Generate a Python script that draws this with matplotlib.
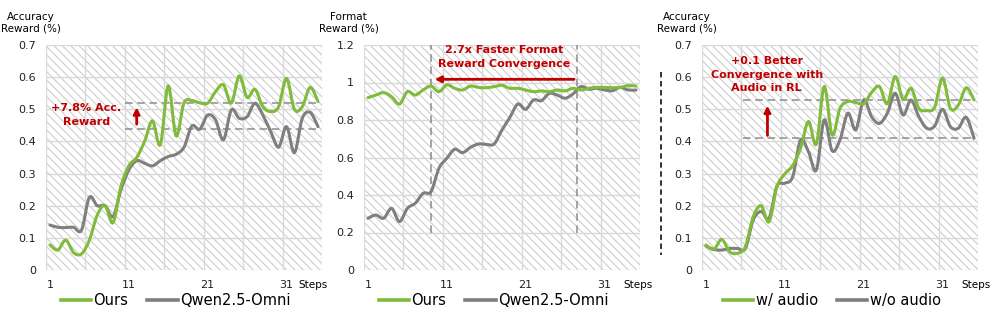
#training reward curves, three panels
import numpy as np
import matplotlib
matplotlib.use('Agg')
import matplotlib.pyplot as plt
from matplotlib.path import Path
from matplotlib.patches import PathPatch, Rectangle
from matplotlib.lines import Line2D

plt.rcParams['font.family'] = ['DejaVu Sans']
plt.rcParams['hatch.linewidth'] = 0.7

steps = list(range(1, 36))
x_ticks = [1, 11, 21, 31]

# panel 1: accuracy reward
acc_ours = [0.078, 0.062, 0.093, 0.054, 0.050, 0.093, 0.171, 0.200, 0.147, 0.260,
            0.324, 0.350, 0.400, 0.464, 0.390, 0.573, 0.417, 0.520, 0.527, 0.520,
            0.519, 0.555, 0.576, 0.519, 0.604, 0.537, 0.562, 0.508, 0.493, 0.508,
            0.596, 0.500, 0.508, 0.568, 0.524]
acc_qwen = [0.140, 0.133, 0.132, 0.133, 0.124, 0.226, 0.200, 0.200, 0.166, 0.249,
            0.311, 0.340, 0.332, 0.324, 0.340, 0.353, 0.360, 0.382, 0.448, 0.438,
            0.482, 0.467, 0.405, 0.498, 0.472, 0.477, 0.519, 0.482, 0.430, 0.382,
            0.446, 0.365, 0.472, 0.490, 0.446]

# panel 2: format reward
fmt_ours = [0.919, 0.933, 0.946, 0.924, 0.885, 0.951, 0.933, 0.960, 0.981, 0.951,
            0.987, 0.969, 0.960, 0.981, 0.974, 0.972, 0.978, 0.985, 0.969, 0.969,
            0.960, 0.951, 0.955, 0.951, 0.960, 0.955, 0.969, 0.960, 0.969, 0.974,
            0.974, 0.972, 0.974, 0.983, 0.981]
fmt_qwen = [0.276, 0.293, 0.276, 0.329, 0.258, 0.329, 0.356, 0.409, 0.418, 0.542,
            0.596, 0.644, 0.626, 0.654, 0.672, 0.670, 0.672, 0.747, 0.814, 0.885,
            0.857, 0.907, 0.903, 0.942, 0.933, 0.916, 0.939, 0.978, 0.964, 0.969,
            0.960, 0.956, 0.974, 0.960, 0.960]

# panel 3: with / without audio
audio_on = [0.078, 0.064, 0.095, 0.057, 0.052, 0.073, 0.166, 0.200, 0.150, 0.259,
            0.299, 0.325, 0.379, 0.462, 0.392, 0.571, 0.420, 0.503, 0.524, 0.521,
            0.517, 0.552, 0.571, 0.517, 0.602, 0.531, 0.565, 0.503, 0.496, 0.506,
            0.597, 0.503, 0.513, 0.567, 0.529]
audio_off = [0.075, 0.064, 0.062, 0.067, 0.067, 0.067, 0.156, 0.182, 0.161, 0.261,
             0.270, 0.290, 0.405, 0.368, 0.311, 0.467, 0.371, 0.405, 0.488, 0.436,
             0.529, 0.477, 0.456, 0.488, 0.550, 0.482, 0.529, 0.477, 0.441, 0.448,
             0.500, 0.446, 0.441, 0.475, 0.410]

acc_yticks = [0, 0.1, 0.2, 0.3, 0.4, 0.5, 0.6, 0.7]
acc_ylabels = ['0', '0.1', '0.2', '0.3', '0.4', '0.5', '0.6', '0.7']
fmt_yticks = [0, 0.2, 0.4, 0.6, 0.8, 1.0, 1.2]
fmt_ylabels = ['0', '0.2', '0.4', '0.6', '0.8', '1', '1.2']

# annotation levels
p1_levels = [0.52, 0.44]
p2_marks = [9, 27.5]
p3_levels = [0.53, 0.41]

GREEN = '#80bb3b'
GRAY = '#7f7f7f'
RED = '#c00000'
GRID = '#d9d9d9'


def smooth_line(ax, x, y, color):
    # excel-like smoothed line drawn as bezier segments through the points
    pts = np.column_stack([x, y]).astype(float)
    n = len(pts)
    verts = [pts[0]]
    codes = [Path.MOVETO]
    for i in range(n - 1):
        p0 = pts[max(i - 1, 0)]
        p1 = pts[i]
        p2 = pts[i + 1]
        p3 = pts[min(i + 2, n - 1)]
        verts += [p1 + (p2 - p0) / 6, p2 - (p3 - p1) / 6, p2]
        codes += [Path.CURVE4] * 3
    ax.add_patch(PathPatch(Path(verts, codes), fill=False, edgecolor=color,
                           lw=2.2, capstyle='round', joinstyle='round', zorder=3))


def setup(ax, yticks, ylabels, ylabel, names, steps_x):
    ax.add_patch(Rectangle((0, 0), 1, 1, transform=ax.transAxes, facecolor='white',
                           edgecolor='#c8c8c8', hatch='\\\\\\\\', lw=0, zorder=0))
    ax.set_xlim(0.5, 35.5)
    ax.set_ylim(yticks[0], yticks[-1])
    ax.set_xticks(x_ticks)
    ax.set_xticks(np.arange(0.5, 36, 5), minor=True)
    ax.set_yticks(yticks)
    ax.set_yticklabels(ylabels)
    ax.tick_params(axis='both', which='both', length=0, labelsize=8, pad=7, colors='#222222')
    ax.grid(True, axis='y', which='major', color=GRID, lw=1, zorder=1)
    ax.grid(True, axis='x', which='minor', color=GRID, lw=1, zorder=1)
    ax.grid(False, axis='x', which='major')
    for s in ax.spines.values():
        s.set_visible(False)
    ax.annotate(ylabel, xy=(0, 1), xycoords='axes fraction', xytext=(-11, 16),
                textcoords='offset points', ha='center', va='center', fontsize=7.5,
                linespacing=1.1)
    ax.text(steps_x, -0.068, 'Steps', transform=ax.get_xaxis_transform(),
            ha='center', va='center', fontsize=7.5)
    handles = [Line2D([], [], color=GREEN, lw=2.6), Line2D([], [], color=GRAY, lw=2.6)]
    ax.legend(handles, names, loc='center', bbox_to_anchor=(0.47, -0.135), ncol=2,
              frameon=False, fontsize=10.5, handlelength=2.1, handletextpad=0.15,
              columnspacing=1.3, borderaxespad=0, borderpad=0)


fig = plt.figure(figsize=(9.97, 3.25), dpi=100)
ax1 = fig.add_axes([46 / 997, 55 / 325, 276 / 997, 225 / 325])
ax2 = fig.add_axes([364 / 997, 55 / 325, 276 / 997, 225 / 325])
ax3 = fig.add_axes([702 / 997, 55 / 325, 276 / 997, 225 / 325])

# panel 1
setup(ax1, acc_yticks, acc_ylabels, 'Accuracy\nReward (%)', ['Ours', 'Qwen2.5-Omni'], 34.3)
smooth_line(ax1, steps, acc_qwen, GRAY)
smooth_line(ax1, steps, acc_ours, GREEN)
ax1.hlines(p1_levels, 10.5, 35, colors='#8c8c8c', lw=1.1, linestyles=(0, (5, 3)), zorder=2)
ax1.annotate('', xy=(12, p1_levels[0] - 0.005), xytext=(12, p1_levels[1] + 0.005),
             arrowprops=dict(arrowstyle='-|>', color=RED, lw=2, mutation_scale=9), zorder=4)
ax1.text(5.6, (p1_levels[0] + p1_levels[1]) / 2 + 0.003, '+7.8% Acc.\nReward', color=RED,
         fontsize=8, fontweight='bold', ha='center', va='center', linespacing=1.45)

# panel 2
setup(ax2, fmt_yticks, fmt_ylabels, 'Format\nReward (%)', ['Ours', 'Qwen2.5-Omni'], 35.3)
smooth_line(ax2, steps, fmt_qwen, GRAY)
smooth_line(ax2, steps, fmt_ours, GREEN)
ax2.vlines(p2_marks, 0.2, 1.2, colors='#8c8c8c', lw=1.1, linestyles=(0, (5, 3)), zorder=2)
ax2.annotate('', xy=(p2_marks[0] + 0.1, 1.017), xytext=(p2_marks[1], 1.017),
             arrowprops=dict(arrowstyle='-|>', color=RED, lw=2, mutation_scale=9), zorder=4)
ax2.text(sum(p2_marks) / 2, 1.136, '2.7x Faster Format\nReward Convergence', color=RED,
         fontsize=8, fontweight='bold', ha='center', va='center', linespacing=1.45)

# panel 3
setup(ax3, acc_yticks, acc_ylabels, 'Accuracy\nReward (%)', ['w/ audio', 'w/o audio'], 35.2)
smooth_line(ax3, steps, audio_off, GRAY)
smooth_line(ax3, steps, audio_on, GREEN)
ax3.hlines(p3_levels, 5.7, 35, colors='#8c8c8c', lw=1.1, linestyles=(0, (5, 3)), zorder=2)
ax3.annotate('', xy=(8.8, p3_levels[0] - 0.01), xytext=(8.8, p3_levels[1]),
             arrowprops=dict(arrowstyle='-|>', color=RED, lw=2, mutation_scale=9), zorder=4)
ax3.text(8.7, 0.607, '+0.1 Better\nConvergence with\nAudio in RL', color=RED,
         fontsize=8, fontweight='bold', ha='center', va='center', linespacing=1.45)

# separator between panel 2 and 3
fig.add_artist(Line2D([661 / 997, 661 / 997], [253 / 325, 70 / 325], transform=fig.transFigure,
                      color='#222222', lw=1.3, linestyle=(0, (3, 2))))

fig.savefig('out.png', dpi=100)
